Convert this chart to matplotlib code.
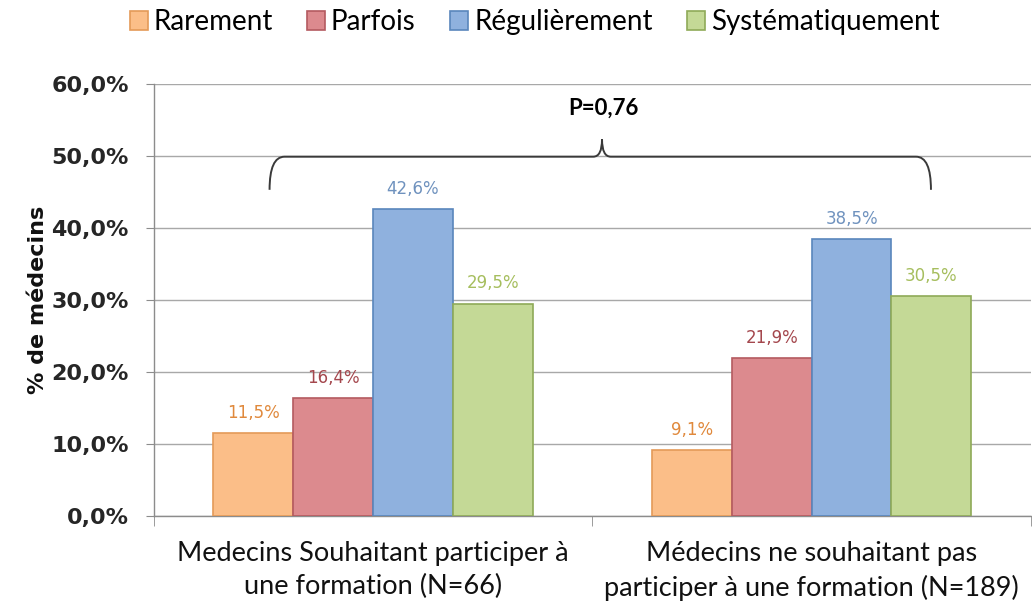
import matplotlib
matplotlib.use("Agg")
import matplotlib.pyplot as plt
from matplotlib.path import Path
from matplotlib.patches import PathPatch
from matplotlib.ticker import FuncFormatter, FixedLocator
import numpy as np

categories = ["Medecins Souhaitant participer à\nune formation (N=66)",
              "Médecins ne souhaitant pas\nparticiper à une formation (N=189)"]
series_names = ["Rarement", "Parfois", "Régulièrement", "Systématiquement"]
rarement = [11.5, 9.1]
parfois = [16.4, 21.9]
regulierement = [42.6, 38.5]
systematiquement = [29.5, 30.5]
y_ticks = [0, 10, 20, 30, 40, 50, 60]
p_text = "P=0,76"

series_values = [rarement, parfois, regulierement, systematiquement]
fills = ["#FBBE88", "#DC8A8E", "#8FB1DE", "#C4D996"]
edges = ["#E49A58", "#B45A60", "#5A86BC", "#8FAA58"]
label_colors = ["#E0893C", "#A4474D", "#6F92BE", "#A6BE5E"]

humanist = ["Lato", "DejaVu Sans"]

fig = plt.figure(figsize=(10.32, 6.04), dpi=100)
ax = fig.add_axes([0.149, 0.1457, 0.85, 0.7153])

x = np.arange(len(categories))
w = 0.182
offsets = [-1.5, -0.5, 0.5, 1.5]
handles = []
for vals, off, fc, ec, lc, name in zip(series_values, offsets, fills, edges, label_colors, series_names):
    bars = ax.bar(x + off * w, vals, w, color=fc, edgecolor=ec, linewidth=1.2, label=name, zorder=3)
    handles.append(bars)
    ax.bar_label(bars, labels=[f"{v:.1f}".replace(".", ",") + "%" for v in vals],
                 padding=8, color=lc, fontsize=12, family="DejaVu Sans")

ax.set_xlim(-0.5, 1.5)
ax.set_ylim(0, 60)
ax.yaxis.set_major_locator(FixedLocator(y_ticks))
ax.yaxis.set_major_formatter(FuncFormatter(lambda v, p: f"{v:.1f}".replace(".", ",") + "%"))
ax.grid(axis="y", color="#A8A8A8", linewidth=1.0, zorder=0)
ax.set_axisbelow(True)

for s in ["top", "right"]:
    ax.spines[s].set_visible(False)
for s in ["left", "bottom"]:
    ax.spines[s].set_color("#8C8C8C")
    ax.spines[s].set_linewidth(1.0)

ax.set_xticks(x)
ax.set_xticklabels(categories, fontsize=19.5, family=humanist, color="#111111", linespacing=1.4)
ax.tick_params(axis="x", which="major", length=0, pad=18)
ax.set_xticks([-0.5, 0.5, 1.5], minor=True)
ax.tick_params(axis="x", which="minor", length=7, color="#8C8C8C", direction="out")
ax.tick_params(axis="y", length=6, color="#8C8C8C", direction="out", pad=12)
for t in ax.get_yticklabels():
    t.set_fontsize(16)
    t.set_fontweight("bold")
    t.set_color("#262626")

ax.set_ylabel("% de médecins", fontsize=16, fontweight="bold", color="#111111", labelpad=2)

# curly brace annotation
xl, xr, xt = -0.236, 1.272, 0.522
yh, ye, yt = 49.9, 45.3, 52.3
dxc, dxt = 0.034, 0.02
verts = [(xl, ye), (xl, yh), (xl + dxc, yh), (xt - dxt, yh),
         (xt, yh), (xt, yt),
         (xt, yh), (xt + dxt, yh), (xr - dxc, yh),
         (xr, yh), (xr, ye)]
codes = [Path.MOVETO, Path.CURVE3, Path.CURVE3, Path.LINETO,
         Path.CURVE3, Path.CURVE3,
         Path.CURVE3, Path.CURVE3, Path.LINETO,
         Path.CURVE3, Path.CURVE3]
ax.add_patch(PathPatch(Path(verts, codes), facecolor="none", edgecolor="#3A3A3A", linewidth=1.4, zorder=4, clip_on=False))
ax.text(0.525, 56.6, p_text, ha="center", va="center", fontsize=16, fontweight="bold", family=humanist, color="black", zorder=5)

fig.legend(handles=handles, labels=series_names, loc="center", bbox_to_anchor=(0.518, 0.963), ncol=4,
           frameon=False, prop={"family": humanist, "size": 20}, handlelength=0.65, handleheight=0.65,
           handletextpad=0.2, columnspacing=1.25, borderaxespad=0)

fig.savefig("out.png", dpi=100)
